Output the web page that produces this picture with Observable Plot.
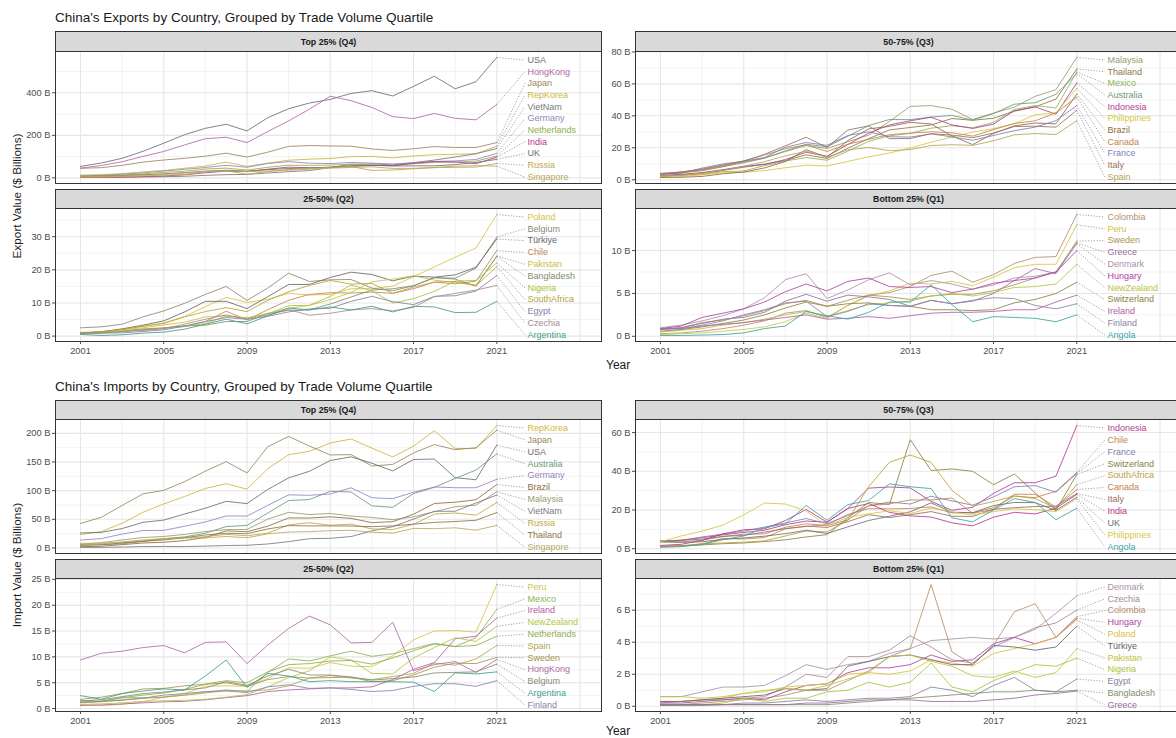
<!DOCTYPE html>
<html>
<head>
<meta charset="utf-8">
<script src="https://cdn.jsdelivr.net/npm/d3@7"></script>
<script src="https://cdn.jsdelivr.net/npm/@observablehq/plot@0.6"></script>
<style>
  html, body { margin: 0; padding: 0; background: #fff; overflow: hidden; }
  #fig { position: relative; width: 1176px; height: 738px; overflow: hidden;
         font-family: "Liberation Sans", Arial, sans-serif; color: #1a1a1a; }
  .title { position: absolute; left: 55px; font-size: 13.5px; line-height: 16px; white-space: nowrap; }
  .strip { position: absolute; background: #d9d9d9; border: 1px solid #333; box-sizing: border-box;
           font-size: 8.8px; font-weight: bold; color: #1a1a1a; display: flex;
           align-items: center; justify-content: center; }
  .xtitle { position: absolute; font-size: 12px; line-height: 14px; white-space: nowrap; }
  .ytitle { position: absolute; font-size: 11.8px; white-space: nowrap;
            transform: translate(-50%, -50%) rotate(-90deg); }
  .panel { position: absolute; }
</style>
</head>
<body>
<div id="fig"></div>
<script>
// ---- shared axis values ----
const years = [2001, 2002, 2003, 2004, 2005, 2006, 2007, 2008, 2009, 2010, 2011,
               2012, 2013, 2014, 2015, 2016, 2017, 2018, 2019, 2020, 2021];
const xTickYears = [2001, 2005, 2009, 2013, 2017, 2021];
const xGridMajor = [2001, 2005, 2009, 2013, 2017, 2021, 2025];
const xGridMinor = [2003, 2007, 2011, 2015, 2019, 2023];

// ---- exports, top quartile (US$ billions) ----
const expQ4Countries = ["USA", "HongKong", "Japan", "RepKorea", "VietNam", "Germany",
                        "Netherlands", "India", "UK", "Russia", "Singapore"];
const expQ4Values = [
  [54, 70, 92, 125, 163, 203, 233, 252, 221, 283, 325, 352, 369, 397, 410, 385, 430, 478, 419, 452, 566],
  [46, 58, 76, 101, 124, 155, 184, 191, 166, 218, 268, 323, 384, 363, 331, 288, 279, 303, 280, 273, 345],
  [45, 48, 59, 74, 84, 92, 102, 116, 98, 121, 148, 152, 150, 149, 136, 129, 137, 147, 143, 143, 166],
  [13, 15.5, 20, 28, 35, 45, 56, 74, 54, 69, 83, 88, 91, 100, 101, 94, 103, 109, 111, 113, 149],
  [1.8, 2.1, 3.2, 4.3, 5.6, 7.5, 11.9, 15.1, 16.3, 23.1, 29.1, 34.2, 48.6, 63.7, 66.0, 61.1, 71.6, 83.9, 97.9, 113.8, 137.9],
  [9.8, 11.4, 17.5, 23.8, 32.5, 40.3, 48.7, 59.2, 49.9, 68.0, 76.4, 69.2, 67.3, 72.7, 69.2, 65.3, 71.1, 77.5, 79.7, 86.8, 115.2],
  [7.3, 9.1, 13.5, 18.5, 25.9, 30.9, 41.4, 45.9, 36.7, 49.7, 59.5, 58.9, 60.3, 64.9, 59.5, 57.5, 67.1, 72.8, 74.0, 79.0, 102.6],
  [1.9, 2.7, 3.3, 5.9, 8.9, 14.6, 24.0, 31.6, 29.7, 40.9, 50.5, 47.7, 48.4, 54.2, 58.3, 58.4, 68.1, 76.7, 74.9, 66.7, 97.5],
  [6.8, 8.1, 10.8, 15.0, 18.9, 24.2, 31.7, 36.1, 31.3, 38.8, 44.1, 46.3, 50.9, 57.1, 59.6, 55.7, 56.7, 56.6, 62.3, 72.6, 87.0],
  [2.7, 3.5, 6.0, 9.1, 13.2, 15.8, 28.5, 33.0, 17.5, 29.6, 38.9, 44.1, 49.6, 53.7, 34.8, 37.3, 42.9, 48.0, 49.7, 50.6, 67.6],
  [5.8, 7.0, 8.9, 12.7, 16.6, 23.2, 29.6, 32.3, 30.1, 32.3, 35.6, 40.7, 45.8, 48.9, 52.0, 44.5, 45.0, 49.0, 54.8, 57.5, 55.3]
];

// ---- exports, third quartile ----
const expQ3Countries = ["Malaysia", "Thailand", "Mexico", "Australia", "Indonesia", "Philippines",
                        "Brazil", "Canada", "France", "Italy", "Spain"];
const expQ3Values = [
  [3.2, 5.0, 6.1, 8.1, 10.6, 13.5, 17.7, 21.4, 19.6, 23.8, 27.9, 36.5, 45.9, 46.4, 44.1, 37.7, 41.7, 45.4, 52.2, 56.4, 76.5],
  [2.3, 3.0, 3.8, 5.8, 7.8, 9.8, 12.0, 15.6, 13.3, 19.7, 25.7, 31.2, 32.7, 34.3, 38.3, 37.2, 38.5, 42.9, 45.6, 50.5, 69.3],
  [1.8, 2.8, 3.3, 5.0, 5.5, 8.8, 11.7, 13.9, 12.2, 17.9, 24.0, 27.5, 29.0, 32.3, 33.8, 32.5, 35.9, 44.0, 46.4, 44.9, 67.5],
  [3.6, 4.6, 6.3, 8.8, 11.1, 13.6, 18.0, 22.2, 20.6, 27.2, 33.9, 37.7, 37.6, 39.2, 40.3, 37.3, 41.4, 47.3, 48.2, 53.5, 66.4],
  [2.8, 3.4, 4.5, 6.3, 8.4, 9.5, 12.6, 17.2, 14.7, 22.0, 29.2, 34.3, 36.9, 39.1, 34.3, 32.1, 34.8, 43.2, 45.6, 41.0, 60.6],
  [1.6, 2.0, 3.1, 4.3, 4.7, 5.7, 7.5, 9.1, 8.6, 11.5, 14.3, 16.7, 19.9, 23.5, 26.7, 29.8, 32.0, 35.0, 40.7, 41.9, 57.3],
  [1.4, 1.5, 2.1, 3.7, 4.8, 7.4, 11.4, 18.8, 14.1, 24.5, 31.8, 33.4, 35.9, 34.9, 27.4, 22.0, 29.0, 33.7, 35.5, 35.0, 53.6],
  [3.3, 4.3, 5.6, 8.2, 11.7, 15.5, 19.4, 21.8, 17.7, 22.2, 25.3, 28.2, 29.2, 30.0, 29.4, 27.3, 31.4, 35.2, 36.9, 41.9, 51.7],
  [3.7, 4.1, 7.3, 9.9, 11.6, 13.9, 20.3, 23.3, 21.5, 27.7, 30.0, 26.9, 26.7, 28.7, 26.8, 24.7, 27.7, 30.7, 32.9, 37.0, 46.5],
  [4.0, 4.8, 6.7, 9.2, 11.7, 15.9, 21.2, 26.6, 20.2, 31.1, 33.7, 25.7, 25.8, 28.8, 27.9, 26.3, 29.2, 33.3, 33.5, 32.9, 43.5],
  [2.3, 2.8, 4.0, 5.9, 8.4, 11.3, 15.0, 17.8, 14.1, 18.7, 20.2, 18.2, 18.9, 21.4, 21.9, 21.5, 24.4, 28.1, 28.9, 28.3, 36.9]
];

// ---- exports, second quartile ----
const expQ2Countries = ["Poland", "Belgium", "Türkiye", "Chile", "Pakistan", "Bangladesh",
                        "Nigeria", "SouthAfrica", "Egypt", "Czechia", "Argentina"];
const expQ2Values = [
  [1.1, 1.4, 2.0, 2.9, 4.0, 5.9, 8.9, 11.7, 10.2, 11.1, 12.9, 12.4, 12.6, 14.3, 14.3, 15.1, 17.9, 20.9, 23.8, 26.6, 36.7],
  [2.5, 2.8, 3.6, 5.8, 7.6, 9.9, 12.6, 15.0, 10.8, 14.5, 19.0, 16.5, 17.0, 17.1, 14.5, 13.7, 15.2, 17.6, 17.5, 20.5, 29.9],
  [0.9, 1.3, 2.2, 3.3, 4.6, 7.3, 10.5, 10.5, 8.3, 11.9, 15.6, 15.6, 17.7, 19.3, 18.6, 16.7, 18.1, 17.8, 18.5, 20.8, 29.3],
  [1.0, 1.2, 1.6, 2.2, 2.5, 3.0, 4.4, 7.5, 4.9, 8.0, 10.8, 12.6, 13.1, 13.0, 13.3, 12.9, 14.3, 16.3, 15.8, 16.6, 25.8],
  [0.8, 1.2, 1.9, 2.5, 3.4, 4.2, 5.8, 6.1, 5.5, 6.9, 8.4, 9.3, 11.0, 13.2, 16.4, 17.2, 18.2, 16.9, 16.2, 15.4, 24.2],
  [1.0, 1.0, 1.4, 1.9, 2.4, 3.1, 3.3, 4.4, 4.4, 6.8, 7.8, 7.9, 9.7, 11.8, 13.9, 14.3, 15.2, 17.7, 17.2, 15.1, 24.1],
  [0.9, 1.0, 1.6, 1.7, 2.3, 2.9, 3.8, 6.0, 5.5, 6.7, 9.2, 9.3, 12.0, 15.4, 13.7, 10.0, 11.3, 13.5, 16.6, 16.8, 22.1],
  [1.0, 1.3, 2.0, 3.0, 3.8, 5.8, 7.4, 8.6, 7.4, 10.8, 13.4, 15.3, 16.8, 15.7, 15.9, 12.9, 14.8, 16.3, 16.5, 15.2, 21.0],
  [0.9, 0.9, 1.0, 1.4, 1.9, 3.0, 4.4, 5.6, 5.1, 6.0, 7.3, 8.2, 8.4, 10.5, 12.0, 10.4, 9.5, 12.0, 12.2, 13.6, 18.3],
  [0.6, 0.9, 1.3, 1.8, 2.3, 3.6, 5.1, 6.4, 5.1, 6.4, 8.0, 6.3, 6.9, 7.9, 8.3, 7.6, 8.7, 11.9, 12.9, 13.9, 15.3],
  [0.5, 0.2, 0.4, 0.9, 1.2, 2.1, 3.6, 5.1, 3.7, 6.1, 8.5, 7.9, 8.8, 7.9, 9.0, 7.3, 9.0, 8.8, 7.1, 7.2, 10.5]
];

// ---- exports, bottom quartile ----
const expQ1Countries = ["Colombia", "Peru", "Sweden", "Greece", "Denmark", "Hungary",
                        "NewZealand", "Switzerland", "Ireland", "Finland", "Angola"];
const expQ1Values = [
  [0.3, 0.4, 0.6, 0.9, 1.3, 1.8, 2.7, 3.0, 2.2, 3.6, 4.8, 5.1, 5.8, 7.1, 7.6, 6.3, 7.2, 8.5, 9.2, 9.3, 14.2],
  [0.2, 0.3, 0.4, 0.6, 0.8, 1.1, 1.7, 2.7, 2.1, 3.6, 4.7, 5.3, 6.2, 6.1, 6.4, 5.9, 6.9, 8.0, 8.4, 8.4, 13.0],
  [0.9, 1.0, 1.6, 1.9, 2.4, 3.0, 3.8, 4.2, 3.5, 4.2, 4.8, 4.6, 4.3, 4.7, 4.9, 4.9, 5.3, 6.0, 6.8, 7.5, 11.1],
  [0.8, 1.0, 1.5, 2.0, 2.2, 2.8, 4.1, 4.9, 4.1, 4.8, 4.6, 4.3, 3.5, 4.2, 3.8, 4.1, 5.0, 6.5, 7.9, 7.3, 10.9],
  [1.0, 1.3, 1.8, 2.4, 3.2, 4.5, 6.6, 7.3, 4.4, 5.4, 6.6, 7.4, 6.0, 6.5, 6.1, 5.5, 6.0, 6.8, 7.0, 7.5, 10.8],
  [0.9, 1.2, 2.2, 2.7, 3.2, 4.0, 5.2, 6.1, 5.3, 6.4, 6.8, 5.8, 5.7, 5.8, 5.1, 5.5, 6.2, 6.5, 6.8, 7.5, 10.0],
  [0.5, 0.7, 0.9, 1.3, 1.6, 2.0, 2.5, 2.9, 2.3, 3.0, 3.7, 3.9, 4.1, 4.7, 5.0, 4.7, 5.1, 5.7, 5.8, 6.1, 8.4],
  [0.6, 0.8, 1.1, 1.5, 1.9, 2.5, 3.3, 4.0, 3.5, 3.8, 3.9, 3.6, 3.5, 3.1, 3.1, 3.0, 3.1, 3.9, 4.3, 5.0, 6.3],
  [0.9, 0.9, 1.2, 1.4, 1.6, 1.9, 2.2, 2.5, 2.0, 2.1, 2.3, 2.1, 2.4, 2.7, 2.8, 2.8, 2.9, 3.1, 3.1, 4.0, 4.8],
  [0.8, 0.9, 1.3, 1.8, 2.5, 3.1, 3.9, 4.1, 2.3, 2.9, 3.8, 3.6, 3.5, 4.2, 3.8, 4.2, 4.5, 4.4, 3.6, 3.2, 3.8],
  [0.1, 0.1, 0.15, 0.2, 0.4, 0.9, 1.2, 2.9, 2.4, 2.0, 2.8, 4.0, 4.0, 6.0, 3.7, 1.7, 2.3, 2.2, 2.1, 1.7, 2.5]
];

// ---- imports, top quartile ----
const impQ4Countries = ["RepKorea", "Japan", "USA", "Australia", "Germany", "Brazil",
                        "Malaysia", "VietNam", "Russia", "Thailand", "Singapore"];
const impQ4Values = [
  [23.4, 28.6, 43.1, 62.2, 76.8, 89.8, 103.8, 112.1, 102.6, 138.3, 162.7, 168.7, 183.1, 190.1, 174.3, 158.9, 177.6, 204.6, 173.6, 173.5, 213.5],
  [42.8, 53.5, 74.2, 94.4, 100.5, 115.7, 134.0, 150.6, 130.9, 176.7, 194.6, 177.8, 162.2, 162.9, 143.0, 145.7, 165.8, 180.4, 171.5, 174.9, 205.5],
  [26.2, 27.2, 33.9, 44.7, 48.7, 59.2, 69.4, 81.4, 77.4, 102.1, 122.2, 133.8, 152.6, 159.0, 147.8, 134.4, 154.4, 155.1, 122.7, 119.0, 179.5],
  [5.4, 5.9, 7.3, 11.6, 16.2, 19.3, 25.8, 37.4, 39.4, 61.1, 82.7, 84.6, 98.9, 97.6, 73.5, 70.9, 94.9, 105.8, 121.3, 136.0, 164.1],
  [13.8, 16.4, 24.3, 30.4, 30.7, 37.9, 45.4, 55.8, 55.7, 74.3, 92.7, 91.9, 94.2, 105.0, 87.6, 86.1, 97.2, 106.3, 105.1, 105.1, 119.8],
  [2.3, 3.0, 5.8, 8.7, 10.0, 12.9, 18.3, 29.9, 28.3, 38.1, 52.4, 52.3, 54.3, 51.7, 44.2, 45.9, 58.9, 77.6, 79.8, 84.2, 110.6],
  [6.2, 9.3, 14.0, 18.2, 20.1, 23.6, 28.7, 32.1, 32.3, 50.4, 62.1, 58.3, 60.2, 55.7, 53.3, 49.3, 54.4, 63.3, 71.9, 74.7, 98.1],
  [1.0, 1.1, 1.5, 2.5, 2.6, 2.5, 3.2, 4.3, 4.7, 7.0, 11.1, 16.2, 16.9, 19.9, 29.9, 37.2, 50.4, 64.0, 64.1, 78.5, 92.3],
  [8.0, 8.4, 9.7, 12.1, 15.9, 17.6, 19.7, 23.8, 21.3, 25.9, 40.3, 44.1, 39.6, 41.6, 33.3, 32.2, 41.2, 59.1, 61.1, 57.2, 79.3],
  [4.7, 5.6, 8.8, 11.5, 13.9, 17.9, 22.7, 25.7, 24.9, 33.2, 39.0, 38.5, 38.5, 38.3, 37.2, 38.5, 41.6, 44.6, 46.2, 48.3, 61.9],
  [5.1, 7.0, 10.5, 14.0, 16.5, 17.7, 17.5, 20.1, 17.8, 24.7, 27.8, 28.5, 30.1, 30.8, 27.6, 25.9, 34.2, 33.7, 35.2, 31.0, 39.4]
];

// ---- imports, third quartile ----
const impQ3Countries = ["Indonesia", "Chile", "France", "Switzerland", "SouthAfrica", "Canada",
                        "Italy", "India", "UK", "Philippines", "Angola"];
const impQ3Values = [
  [3.9, 4.5, 5.7, 7.2, 8.4, 9.6, 12.4, 14.3, 13.7, 20.8, 31.3, 31.9, 31.4, 24.5, 19.9, 21.4, 28.6, 34.1, 34.1, 37.5, 63.6],
  [1.3, 1.6, 2.5, 5.4, 5.0, 5.8, 10.3, 11.5, 12.4, 17.7, 20.7, 20.6, 20.8, 21.6, 18.5, 18.6, 21.2, 27.2, 26.4, 29.7, 39.4],
  [4.1, 4.3, 6.1, 7.6, 9.1, 11.2, 13.3, 15.6, 13.0, 17.1, 22.1, 24.1, 23.1, 27.1, 24.7, 22.5, 26.8, 32.0, 32.6, 29.2, 38.9],
  [1.2, 1.5, 2.0, 2.6, 3.0, 3.7, 4.6, 6.1, 7.3, 16.0, 23.9, 22.9, 56.3, 40.4, 41.2, 40.0, 33.1, 38.6, 28.8, 20.0, 38.3],
  [1.2, 1.3, 2.6, 3.0, 3.4, 4.1, 6.6, 9.2, 8.7, 14.8, 32.1, 44.6, 48.4, 44.6, 30.2, 22.0, 24.4, 27.3, 25.9, 20.9, 33.0],
  [4.0, 3.6, 4.4, 6.3, 7.5, 7.7, 11.1, 12.9, 11.9, 14.9, 22.2, 23.2, 25.2, 25.2, 26.2, 18.3, 20.3, 28.2, 28.1, 21.5, 30.6],
  [3.6, 4.3, 5.0, 6.4, 6.9, 8.6, 10.4, 11.7, 11.0, 14.0, 17.6, 16.1, 17.6, 19.2, 16.8, 16.7, 20.4, 21.2, 21.8, 22.0, 28.5],
  [1.7, 2.3, 4.3, 7.7, 9.8, 10.3, 14.6, 20.3, 13.7, 20.8, 23.4, 18.8, 17.0, 16.4, 13.4, 11.8, 16.3, 18.8, 18.0, 20.9, 28.1],
  [3.5, 3.3, 3.6, 4.8, 5.6, 6.5, 7.8, 9.5, 7.9, 11.3, 14.6, 16.8, 19.1, 23.7, 18.9, 18.6, 22.3, 23.9, 23.8, 19.8, 26.6],
  [3.6, 6.6, 9.1, 12.2, 17.5, 23.6, 23.1, 19.5, 11.9, 16.2, 18.0, 19.6, 18.2, 21.0, 19.0, 17.4, 19.2, 20.6, 20.2, 19.2, 25.8],
  [0.7, 1.1, 2.2, 4.7, 6.6, 10.9, 12.9, 22.4, 14.7, 22.8, 24.9, 33.5, 32.0, 31.1, 16.0, 13.9, 20.0, 25.9, 23.9, 15.0, 20.9]
];

// ---- imports, second quartile ----
const impQ2Countries = ["Peru", "Mexico", "Ireland", "NewZealand", "Netherlands", "Spain",
                        "Sweden", "HongKong", "Belgium", "Argentina", "Finland"];
const impQ2Values = [
  [0.7, 0.6, 0.8, 1.3, 2.2, 2.9, 4.3, 4.4, 4.3, 5.8, 7.9, 7.8, 8.9, 8.2, 8.1, 10.2, 13.3, 15.0, 15.1, 14.8, 24.0],
  [1.6, 1.4, 2.1, 2.1, 2.2, 2.6, 3.2, 3.6, 3.3, 7.0, 9.6, 9.2, 10.2, 11.1, 10.1, 10.6, 11.6, 12.6, 12.0, 13.7, 19.2],
  [0.6, 0.7, 0.9, 1.1, 1.3, 1.4, 1.7, 2.1, 2.5, 3.3, 3.6, 3.8, 4.0, 4.0, 4.2, 5.6, 7.6, 8.9, 13.5, 14.0, 17.5],
  [0.8, 0.9, 1.1, 1.4, 1.5, 1.6, 1.8, 2.2, 2.7, 4.2, 6.0, 7.3, 10.0, 9.4, 6.8, 6.7, 9.8, 11.8, 13.7, 13.0, 15.9],
  [1.3, 1.4, 2.1, 2.6, 3.0, 3.7, 4.7, 5.4, 5.0, 7.1, 8.5, 8.7, 9.2, 9.3, 8.6, 9.8, 11.2, 12.5, 12.0, 12.2, 14.0],
  [1.1, 1.3, 1.7, 2.0, 2.2, 2.6, 3.0, 3.5, 3.4, 3.6, 4.4, 5.9, 6.4, 5.9, 5.6, 6.2, 6.8, 8.8, 8.4, 9.6, 12.2],
  [1.8, 2.2, 2.9, 3.8, 3.9, 4.4, 4.7, 5.0, 4.3, 5.6, 6.2, 5.9, 6.0, 6.1, 5.2, 5.4, 6.5, 8.0, 8.8, 8.7, 9.9],
  [9.4, 10.7, 11.1, 11.8, 12.2, 10.8, 12.8, 12.9, 8.7, 12.3, 15.5, 17.9, 16.2, 12.7, 12.8, 16.7, 7.3, 8.5, 9.1, 7.0, 9.5],
  [1.5, 1.7, 2.3, 2.9, 3.2, 3.6, 4.0, 5.2, 4.5, 6.3, 7.6, 6.5, 6.5, 6.1, 5.5, 5.8, 6.1, 6.9, 7.0, 7.1, 8.6],
  [2.5, 1.8, 2.9, 3.4, 3.8, 3.6, 6.3, 9.4, 4.1, 6.8, 6.3, 5.2, 5.4, 5.2, 5.2, 5.2, 5.1, 3.3, 6.9, 6.7, 7.1],
  [1.2, 1.4, 1.6, 2.0, 2.6, 2.9, 3.3, 3.4, 3.1, 4.2, 4.6, 3.9, 4.0, 3.7, 3.3, 3.5, 4.3, 4.8, 4.8, 4.3, 5.4]
];

// ---- imports, bottom quartile ----
const impQ1Countries = ["Denmark", "Czechia", "Colombia", "Hungary", "Poland", "Türkiye",
                        "Pakistan", "Nigeria", "Egypt", "Bangladesh", "Greece"];
const impQ1Values = [
  [0.6, 0.6, 0.9, 1.2, 1.2, 1.3, 1.9, 2.6, 2.3, 2.6, 2.8, 3.3, 3.6, 4.1, 4.2, 4.3, 4.2, 4.3, 4.8, 5.8, 6.9],
  [0.2, 0.3, 0.4, 0.4, 0.5, 0.6, 1.2, 2.0, 1.8, 3.1, 3.1, 3.5, 4.4, 3.7, 2.9, 2.7, 3.7, 4.3, 4.9, 5.2, 6.0],
  [0.05, 0.1, 0.2, 0.3, 0.4, 0.5, 0.7, 1.0, 1.0, 1.6, 2.2, 3.1, 3.6, 7.6, 3.4, 2.6, 3.8, 5.9, 6.4, 4.3, 5.6],
  [0.2, 0.2, 0.3, 0.4, 0.5, 0.4, 0.9, 1.3, 1.4, 2.1, 2.4, 2.4, 2.6, 3.2, 2.8, 2.9, 3.9, 4.3, 3.9, 4.3, 5.5],
  [0.3, 0.3, 0.4, 0.5, 0.8, 0.9, 1.2, 1.3, 1.4, 2.0, 2.1, 2.0, 2.2, 2.9, 2.7, 2.5, 3.3, 3.6, 3.9, 4.3, 5.4],
  [0.3, 0.3, 0.4, 0.5, 0.6, 0.7, 1.1, 1.0, 1.1, 2.5, 2.8, 3.1, 3.2, 2.9, 2.6, 2.6, 3.8, 3.7, 3.5, 3.7, 5.0],
  [0.6, 0.6, 0.5, 0.6, 0.8, 1.0, 1.1, 1.0, 1.3, 1.7, 2.1, 3.1, 3.2, 2.8, 2.5, 1.9, 1.8, 2.2, 1.8, 2.1, 3.6],
  [0.1, 0.1, 0.1, 0.2, 0.5, 0.3, 0.5, 0.5, 0.9, 1.0, 1.5, 1.2, 1.5, 2.7, 1.2, 0.9, 1.6, 2.1, 2.6, 2.5, 3.0],
  [0.1, 0.1, 0.1, 0.1, 0.2, 0.2, 0.3, 0.4, 0.3, 0.4, 0.5, 0.5, 0.6, 1.2, 1.0, 0.6, 1.3, 1.8, 1.0, 0.9, 1.7],
  [0.05, 0.05, 0.05, 0.1, 0.1, 0.1, 0.1, 0.1, 0.1, 0.2, 0.3, 0.4, 0.5, 0.6, 0.7, 0.8, 0.9, 0.9, 1.0, 0.9, 1.0],
  [0.1, 0.1, 0.1, 0.1, 0.1, 0.1, 0.1, 0.2, 0.2, 0.3, 0.4, 0.4, 0.4, 0.3, 0.3, 0.3, 0.4, 0.5, 0.7, 0.8, 0.95]
];

// ---- y-axis breaks per panel ----
const expQ4Ticks = [0, 200, 400];
const expQ3Ticks = [0, 20, 40, 60, 80];
const expQ2Ticks = [0, 10, 20, 30];
const expQ1Ticks = [0, 5, 10];
const impQ4Ticks = [0, 50, 100, 150, 200];
const impQ3Ticks = [0, 20, 40, 60];
const impQ2Ticks = [0, 5, 10, 15, 20, 25];
const impQ1Ticks = [0, 2, 4, 6];

// ---- one colour per country, shared by both figures ----
const countryColor = {
  USA: "#6d6d6d", HongKong: "#b06aa6", Japan: "#9c8560", RepKorea: "#cdb53c", VietNam: "#7a7a7a",
  Germany: "#9585bd", Netherlands: "#8fae4a", India: "#b8378a", UK: "#6e6e6e", Russia: "#c0a64a",
  Singapore: "#bba85a", Malaysia: "#9a9a70", Thailand: "#8f7448", Mexico: "#8db456",
  Australia: "#6b9a7a", Indonesia: "#b23c98", Philippines: "#d8c63c", Brazil: "#8e6c3c",
  Canada: "#c3824a", France: "#7f7fb5", Italy: "#9a6e62", Spain: "#b3a452", Poland: "#d9c23f",
  Belgium: "#8c8a72", "Türkiye": "#666666", Chile: "#c28458", Pakistan: "#c6c243",
  Bangladesh: "#7f8f6a", Nigeria: "#a9c23d", SouthAfrica: "#bba236", Egypt: "#8a7f9c",
  Czechia: "#a38c94", Argentina: "#3f9e8a", Colombia: "#b48f70", Peru: "#d4c445",
  Sweden: "#a6954e", Greece: "#9a6c9e", Denmark: "#a892a8", Hungary: "#b044a4",
  NewZealand: "#b3c443", Switzerland: "#8a8240", Ireland: "#b35ea3", Finland: "#8a84a8",
  Angola: "#3aa5a5"
};

// ---- layout ----
const FONT = '"Liberation Sans", Arial, sans-serif';
const X_DOMAIN = [1999.8, 2026.03];
const FRAME_W = 546;
const MARGIN_L = 55;
const columns = [0, 580];               // svg left edge of each column
const fig = document.getElementById("fig");

function addDiv(cls, text, css) {
  const d = document.createElement("div");
  d.className = cls;
  d.textContent = text;
  Object.assign(d.style, css);
  fig.appendChild(d);
  return d;
}

function drawPanel({countries, values, ticks, strip, col, stripTop, frameTop, frameBottom, showX}) {
  const rows = [];
  countries.forEach((c, i) => values[i].forEach((v, j) => rows.push({country: c, year: years[j], value: v})));

  // 5% padding around the data range, as in the ggplot default
  const all = values.flat();
  const lo = d3.min(all), hi = d3.max(all), pad = 0.05 * (hi - lo);
  const y0 = lo - pad, y1 = hi + pad;

  const h = frameBottom - frameTop;
  const n = countries.length;
  const firstPx = 8.5, lastPx = h - 6.5;
  const pxToValue = px => y1 - (px / h) * (y1 - y0);
  const labels = countries.map((c, i) => ({
    country: c,
    end: values[i][values[i].length - 1],
    ly: pxToValue(firstPx + i * (lastPx - firstPx) / (n - 1))
  }));

  const step = ticks[1] - ticks[0];
  const minor = [ticks[0] - step / 2, ...ticks.map(t => t + step / 2)].filter(t => t > y0 && t < y1);

  const marginTop = 1, marginBottom = showX ? 22 : 1;
  const svgLeft = columns[col];

  // facet strip
  addDiv("strip", strip, {
    left: (svgLeft + MARGIN_L) + "px", top: stripTop + "px",
    width: (FRAME_W + 1) + "px", height: (frameTop - stripTop + 1) + "px"
  });

  const marks = [
    Plot.ruleX(xGridMinor, {stroke: "#ebebeb", strokeWidth: 0.6}),
    Plot.ruleX(xGridMajor, {stroke: "#e6e6e6", strokeWidth: 1.1}),
    Plot.ruleY(minor, {stroke: "#ebebeb", strokeWidth: 0.6}),
    Plot.ruleY(ticks, {stroke: "#e6e6e6", strokeWidth: 1.1}),
    Plot.axisY(ticks, {
      anchor: "left", label: null, tickSize: 3, tickPadding: 2, fontSize: 9.3, color: "#4d4d4d",
      tickFormat: d => `${d} B`
    }),
    Plot.line(rows, {
      x: "year", y: "value", z: "country",
      stroke: d => countryColor[d.country], strokeWidth: 0.9, strokeOpacity: 0.95
    }),
    Plot.link(labels, {
      x1: () => 2021, y1: "end", x2: () => 2022.35, y2: "ly",
      stroke: "#8c8c8c", strokeWidth: 0.8, strokeDasharray: "1.2,1.6"
    }),
    Plot.text(labels, {
      x: () => 2022.47, y: "ly", text: "country", textAnchor: "start",
      fill: d => countryColor[d.country], fontSize: 9
    }),
    Plot.frame({stroke: "#333", strokeWidth: 1})
  ];
  if (showX) {
    marks.push(Plot.axisX(xTickYears, {
      anchor: "bottom", label: null, tickSize: 3, tickPadding: 3, fontSize: 9.3, color: "#4d4d4d",
      tickFormat: d => String(d)
    }));
  }

  const chart = Plot.plot({
    width: MARGIN_L + FRAME_W + 1,
    height: marginTop + h + marginBottom,
    marginLeft: MARGIN_L, marginRight: 1, marginTop, marginBottom,
    x: {domain: X_DOMAIN, axis: null, label: null},
    y: {domain: [y0, y1], axis: null, label: null},
    color: {type: "identity"},
    style: {fontFamily: FONT, fontSize: "9.3px", background: "transparent", overflow: "visible"},
    marks
  });
  chart.classList.add("panel");
  chart.style.left = svgLeft + "px";
  chart.style.top = (frameTop - marginTop) + "px";
  fig.appendChild(chart);
}

// ---- exports figure ----
addDiv("title", "China's Exports by Country, Grouped by Trade Volume Quartile", {top: "10px"});
drawPanel({countries: expQ4Countries, values: expQ4Values, ticks: expQ4Ticks, strip: "Top 25% (Q4)",
           col: 0, stripTop: 31, frameTop: 51, frameBottom: 183, showX: false});
drawPanel({countries: expQ3Countries, values: expQ3Values, ticks: expQ3Ticks, strip: "50-75% (Q3)",
           col: 1, stripTop: 31, frameTop: 51, frameBottom: 183, showX: false});
drawPanel({countries: expQ2Countries, values: expQ2Values, ticks: expQ2Ticks, strip: "25-50% (Q2)",
           col: 0, stripTop: 189, frameTop: 208, frameBottom: 341, showX: true});
drawPanel({countries: expQ1Countries, values: expQ1Values, ticks: expQ1Ticks, strip: "Bottom 25% (Q1)",
           col: 1, stripTop: 189, frameTop: 208, frameBottom: 341, showX: true});
addDiv("xtitle", "Year", {left: "606px", top: "358px"});
addDiv("ytitle", "Export Value ($ Billions)", {left: "17px", top: "196px"});

// ---- imports figure ----
addDiv("title", "China's Imports by Country, Grouped by Trade Volume Quartile", {top: "379px"});
drawPanel({countries: impQ4Countries, values: impQ4Values, ticks: impQ4Ticks, strip: "Top 25% (Q4)",
           col: 0, stripTop: 400, frameTop: 419, frameBottom: 553, showX: false});
drawPanel({countries: impQ3Countries, values: impQ3Values, ticks: impQ3Ticks, strip: "50-75% (Q3)",
           col: 1, stripTop: 400, frameTop: 419, frameBottom: 553, showX: false});
drawPanel({countries: impQ2Countries, values: impQ2Values, ticks: impQ2Ticks, strip: "25-50% (Q2)",
           col: 0, stripTop: 559, frameTop: 578, frameBottom: 711, showX: true});
drawPanel({countries: impQ1Countries, values: impQ1Values, ticks: impQ1Ticks, strip: "Bottom 25% (Q1)",
           col: 1, stripTop: 559, frameTop: 578, frameBottom: 711, showX: true});
addDiv("xtitle", "Year", {left: "606px", top: "724px"});
addDiv("ytitle", "Import Value ($ Billions)", {left: "17px", top: "565px"});
</script>
</body>
</html>
